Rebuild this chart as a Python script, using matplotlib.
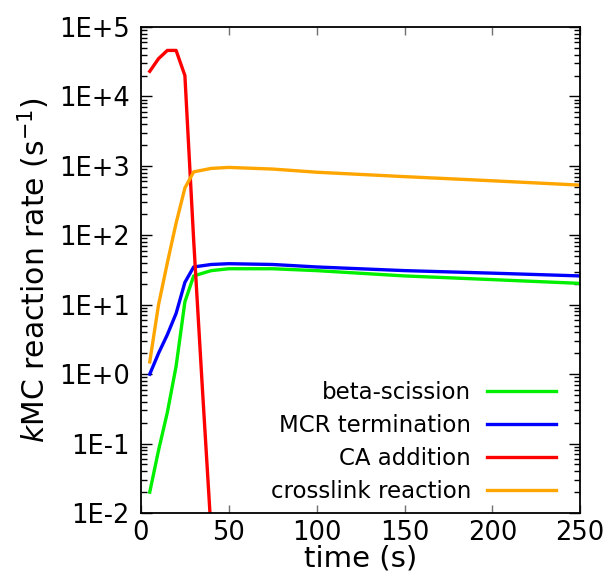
import numpy as np
import matplotlib
matplotlib.use("Agg")
import matplotlib.pyplot as plt
from matplotlib.ticker import FixedLocator, FuncFormatter, LogLocator, NullFormatter

# values (time in s, rate in 1/s)
t_ca = [5, 10, 15, 20, 25, 30, 35, 40]
ca_addition = [2.3e4, 3.5e4, 4.6e4, 4.6e4, 2.0e4, 85, 0.6, 0.005]

t = [5, 10, 15, 20, 25, 30, 40, 50, 75, 100, 150, 200, 250]
beta_scission = [0.02, 0.08, 0.28, 1.3, 11, 26, 31, 33, 33, 31, 26, 23, 20.3]
mcr_termination = [1.0, 2.0, 3.7, 7.5, 21, 35, 38, 39, 38, 35, 31, 28.5, 26]
crosslink = [1.5, 10, 40, 150, 480, 820, 920, 950, 900, 810, 700, 610, 528]

fig = plt.figure(figsize=(6.05, 5.81), dpi=100)
ax = fig.add_axes([0.233, 0.117, 0.726, 0.8365])

lw = 2.4
ax.plot(t, beta_scission, color='#00f000', linewidth=lw, label='beta-scission')
ax.plot(t, mcr_termination, color='#0000ff', linewidth=lw, label='MCR termination')
ax.plot(t_ca, ca_addition, color='#ff0000', linewidth=lw, label='CA addition')
ax.plot(t, crosslink, color='#ffa500', linewidth=lw, label='crosslink reaction')

ax.set_yscale('log')
ax.set_xlim(0, 250)
ax.set_ylim(1e-2, 1e5)

ax.xaxis.set_major_locator(FixedLocator([0, 50, 100, 150, 200, 250]))
ax.yaxis.set_major_locator(LogLocator(base=10, numticks=20))
ax.yaxis.set_minor_locator(LogLocator(base=10, subs=np.arange(2, 10), numticks=20))
ax.yaxis.set_minor_formatter(NullFormatter())
ax.yaxis.set_major_formatter(FuncFormatter(lambda v, _: f"1E{int(round(np.log10(v))):+d}"))

ax.tick_params(axis='x', which='major', direction='in', length=6, width=1,
               top=True, color='#707070', labelsize=18.5, pad=5)
ax.tick_params(axis='y', which='major', direction='in', length=8, width=1,
               right=True, labelsize=18.5, pad=8)
ax.tick_params(axis='y', which='minor', direction='in', length=4, width=1, right=True)
for s in ax.spines.values():
    s.set_linewidth(1.3)

ax.set_xlabel('time (s)', fontsize=21, labelpad=-1)
ax.set_ylabel('$\\mathit{k}$MC reaction rate (s$^{-1}$)', fontsize=21.5, labelpad=5)

ax.legend(loc='lower right', bbox_to_anchor=(0.945, 0.021), frameon=False,
          markerfirst=False, fontsize=16.5, handlelength=3.0, handletextpad=0.7,
          labelspacing=0.43, borderaxespad=0, borderpad=0)

fig.savefig('out.png', dpi=100)
